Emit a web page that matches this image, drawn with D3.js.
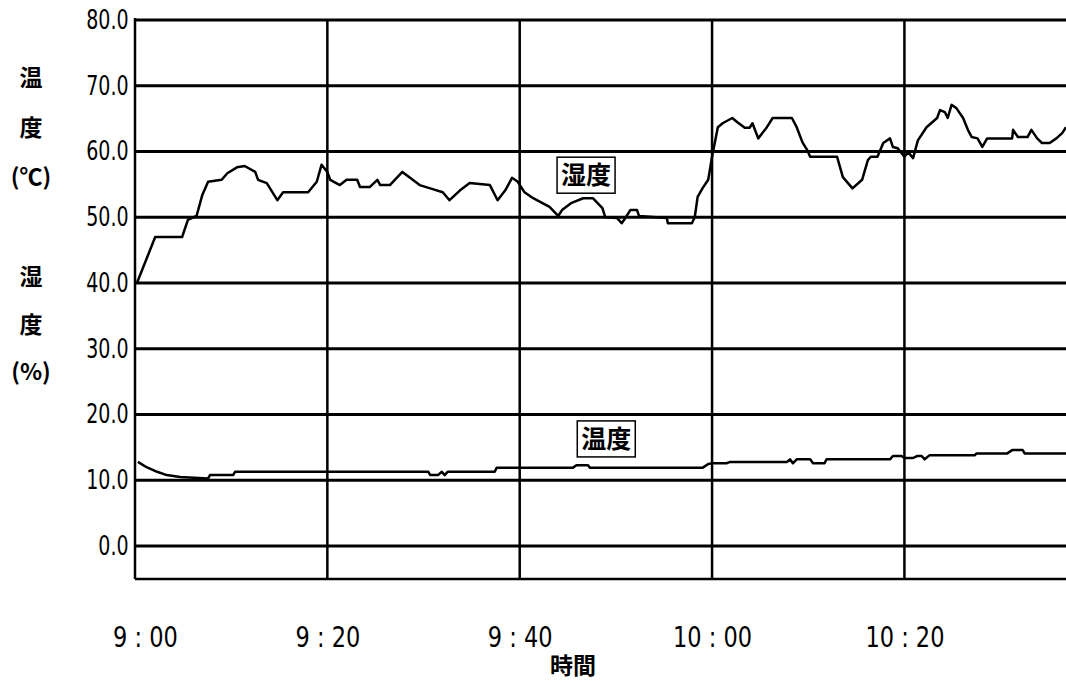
<!DOCTYPE html>
<html>
<head>
<meta charset="utf-8">
<script src="https://cdn.jsdelivr.net/npm/d3@7/dist/d3.min.js"></script>
<style>
  body { margin: 0; background: #fff; }
  svg { display: block; }
  .tick-label { font-family: "DejaVu Sans Condensed", "DejaVu Sans", sans-serif; font-stretch: condensed; fill: #000; }
  .cjk { font-family: "Noto Sans CJK JP", sans-serif; font-weight: 700; fill: #000; }
</style>
</head>
<body>
<div id="chart"></div>
<script>
'use strict';

// minutes after 9:00
const yTicks = [0, 10, 20, 30, 40, 50, 60, 70, 80];
const xTicks = [0, 20, 40, 60, 80];
const xTickLabels = ['9 : 00', '9 : 20', '9 : 40', '10 : 00', '10 : 20'];

const humMin = [0.2, 2.1, 4.9, 5.5, 6.4, 7.0, 7.6, 9.0, 9.6, 10.6, 11.4, 12.5, 12.8, 13.7, 14.8, 15.4, 18.0, 18.9, 19.4, 20.0,
  20.3, 21.3, 22.0, 23.1, 23.4, 24.4, 25.2, 25.5, 26.5, 27.8, 28.6, 29.6, 30.7, 32.0, 32.7, 33.8, 34.8, 36.9, 37.7, 38.5,
  39.2, 39.8, 40.5, 41.4, 43.1, 44.0, 44.4, 45.4, 46.6, 47.6, 48.6, 48.9, 50.1, 50.6, 50.9, 51.5, 52.2, 52.4, 55.3, 55.4,
  57.9, 58.2, 58.5, 59.0, 59.6, 60.0, 60.6, 61.1, 62.1, 62.6, 63.4, 63.9, 64.2, 64.8, 65.7, 66.3, 68.3, 68.8, 69.4, 69.9,
  70.2, 73.0, 73.6, 74.6, 75.6, 76.2, 76.5, 77.2, 77.8, 78.5, 78.8, 79.3, 80.0, 80.4, 80.9, 81.4, 82.3, 83.4, 83.7, 84.2,
  84.5, 84.9, 85.4, 86.1, 86.6, 87.0, 87.6, 88.1, 88.6, 91.2, 91.3, 91.8, 92.8, 93.2, 93.8, 94.3, 95.1, 95.8, 96.4, 96.8];
const humVal = [40.0, 47.0, 47.0, 49.6, 50.2, 53.4, 55.4, 55.7, 56.7, 57.6, 57.8, 56.9, 55.7, 55.2, 52.6, 53.8, 53.8, 55.4, 58.0, 56.9,
  55.7, 54.9, 55.7, 55.7, 54.6, 54.6, 55.7, 54.9, 54.9, 56.9, 56.0, 54.9, 54.4, 53.8, 52.6, 54.1, 55.2, 54.9, 52.6, 54.1,
  56.0, 55.4, 53.8, 52.9, 51.6, 50.2, 51.1, 52.2, 52.9, 52.9, 51.4, 50.0, 49.9, 49.1, 49.7, 51.1, 51.1, 50.2, 49.9, 49.1,
  49.1, 50.0, 53.1, 54.4, 55.7, 59.2, 63.7, 64.3, 65.1, 64.5, 63.6, 63.6, 64.3, 62.0, 63.7, 65.1, 65.1, 63.7, 61.4, 60.2,
  59.2, 59.2, 56.1, 54.4, 55.7, 58.7, 59.2, 59.2, 61.3, 62.0, 60.7, 60.5, 59.2, 59.9, 59.0, 61.7, 63.7, 65.1, 66.3, 66.0,
  65.1, 67.1, 66.6, 65.1, 63.3, 62.2, 62.0, 60.7, 62.0, 62.0, 63.3, 62.2, 62.2, 63.3, 62.0, 61.3, 61.3, 62.0, 62.8, 63.7];

const tempMin = [0.3, 1.2, 2.3, 3.3, 4.7, 7.6, 7.8, 10.2, 10.4, 30.5, 30.7, 31.5, 31.9, 32.2, 32.5, 37.4, 37.6, 45.5, 45.9, 47.1,
  47.3, 59.0, 59.6, 60.1, 61.5, 61.9, 67.8, 68.1, 68.4, 68.8, 70.2, 70.5, 71.7, 71.9, 78.5, 78.8, 79.7, 80.0, 80.9, 81.3,
  81.8, 82.1, 82.6, 87.3, 87.5, 90.7, 91.2, 92.3, 92.5, 96.8];
const tempVal = [12.8, 12.0, 11.3, 10.8, 10.5, 10.3, 10.8, 10.8, 11.3, 11.3, 10.8, 10.8, 11.3, 10.8, 11.3, 11.3, 11.9, 11.9, 12.3, 12.3,
  11.9, 11.9, 12.5, 12.6, 12.6, 12.8, 12.8, 13.2, 12.6, 13.2, 13.2, 12.6, 12.6, 13.2, 13.2, 13.7, 13.7, 13.4, 13.4, 13.7,
  13.7, 13.2, 13.8, 13.8, 14.1, 14.1, 14.6, 14.6, 14.1, 14.1];

const seriesLabels = [
  { text: '湿度', min: 46.9, val: 56.4 },
  { text: '温度', min: 49.0, val: 16.3 }
];

const width = 1066, height = 682;
const margin = { top: 20, left: 135, right: 0, bottom: 103 };

const svg = d3.select('#chart').append('svg')
  .attr('width', width)
  .attr('height', height);

const x = d3.scaleLinear().domain([0, 96.8]).range([margin.left, width - margin.right]);
const y = d3.scaleLinear().domain([-5, 80]).range([height - margin.bottom, margin.top]);

// horizontal grid
svg.selectAll('.hgrid')
  .data(yTicks)
  .enter()
    .append('line')
    .attr('x1', x(0)).attr('x2', width)
    .attr('y1', d => y(d)).attr('y2', d => y(d))
    .attr('stroke', '#000')
    .attr('stroke-width', 3);

// vertical grid
svg.selectAll('.vgrid')
  .data(xTicks.slice(1))
  .enter()
    .append('line')
    .attr('x1', d => x(d)).attr('x2', d => x(d))
    .attr('y1', y(80)).attr('y2', y(-5))
    .attr('stroke', '#000')
    .attr('stroke-width', 2.5);

// y axis
const yAxis = svg.append('g')
  .attr('transform', 'translate(' + x(0) + ',0)')
  .call(d3.axisLeft(y).tickValues(yTicks).tickSize(0).tickPadding(7).tickFormat(d3.format('.1f')));
yAxis.select('.domain').attr('stroke', '#000').attr('stroke-width', 2.5)
  .attr('d', 'M0,' + (y(80) - 2) + 'V' + y(-5));
yAxis.selectAll('text').attr('class', 'tick-label').attr('font-size', 23).attr('font-family', null)
  .attr('transform', 'scale(0.92,1.12)');

// x axis
const xAxis = svg.append('g')
  .attr('transform', 'translate(0,' + y(-5) + ')')
  .call(d3.axisBottom(x).tickValues(xTicks).tickSize(0).tickPadding(43)
    .tickFormat((d, i) => xTickLabels[i]));
xAxis.select('.domain').attr('stroke', '#000').attr('stroke-width', 2.5)
  .attr('d', 'M' + x(0) + ',0H' + width);
xAxis.selectAll('text').attr('class', 'tick-label').attr('font-size', 25).attr('font-family', null)
  .attr('transform', 'scale(1,1.12)');
xAxis.selectAll('.tick').filter(d => d === 0).select('text').attr('dx', 10);

// series
const line = d3.line()
  .x(d => x(d[0]))
  .y(d => y(d[1]));

svg.append('path')
  .datum(d3.zip(humMin, humVal))
  .attr('fill', 'none')
  .attr('stroke', '#000')
  .attr('stroke-width', 2.5)
  .attr('stroke-linejoin', 'round')
  .attr('d', line);

svg.append('path')
  .datum(d3.zip(tempMin, tempVal))
  .attr('fill', 'none')
  .attr('stroke', '#000')
  .attr('stroke-width', 2.5)
  .attr('stroke-linejoin', 'round')
  .attr('d', line);

// series labels in boxes
seriesLabels.forEach(function (s) {
  const g = svg.append('g').attr('transform', 'translate(' + x(s.min) + ',' + y(s.val) + ')');
  g.append('rect')
    .attr('x', -29).attr('y', -18)
    .attr('width', 58).attr('height', 36)
    .attr('fill', '#fff')
    .attr('stroke', '#000')
    .attr('stroke-width', 1.5);
  g.append('text')
    .attr('class', 'cjk')
    .attr('text-anchor', 'middle')
    .attr('dy', '0.36em')
    .attr('font-size', 25)
    .text(s.text);
});

// left axis title
const leftTitle = [
  { t: '温', y: 78 }, { t: '度', y: 128 }, { t: '(℃)', y: 177 },
  { t: '湿', y: 277 }, { t: '度', y: 325 }, { t: '(%)', y: 372 }
];
svg.selectAll('.ytitle')
  .data(leftTitle)
  .enter()
    .append('text')
    .attr('class', 'cjk')
    .attr('x', 31)
    .attr('y', d => d.y)
    .attr('dy', '0.36em')
    .attr('text-anchor', 'middle')
    .attr('font-size', 23)
    .text(d => d.t);

// x axis title
svg.append('text')
  .attr('class', 'cjk')
  .attr('x', 573)
  .attr('y', 666)
  .attr('dy', '0.36em')
  .attr('text-anchor', 'middle')
  .attr('font-size', 23)
  .text('時間');
</script>
</body>
</html>
